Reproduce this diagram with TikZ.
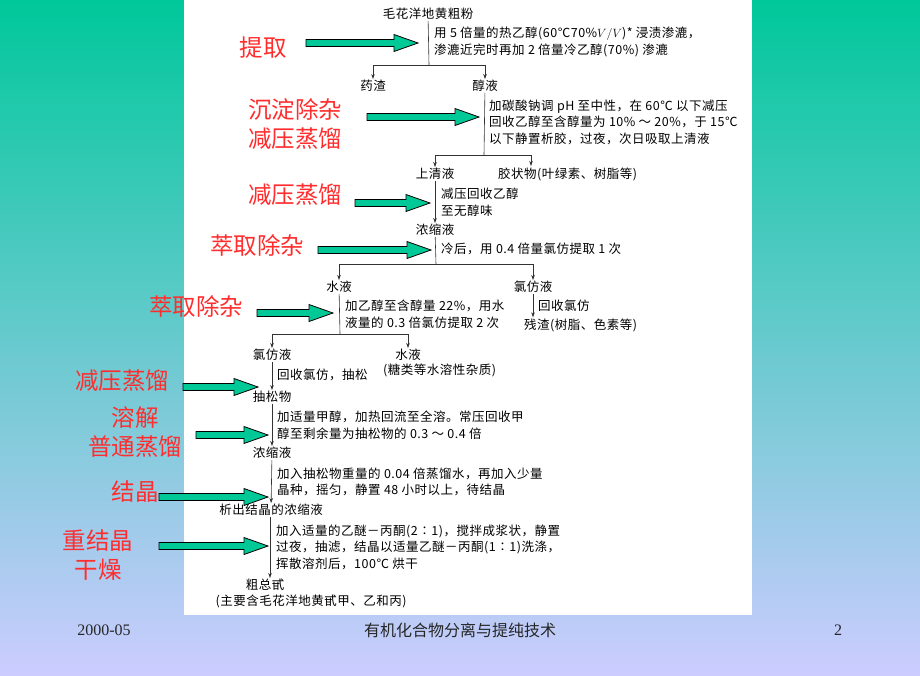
\documentclass[tikz,border=0pt]{standalone}
\usepackage{fontspec}
\setmainfont{Liberation Serif}
\newfontfamily\cjk{Noto Sans CJK SC}
\newfontfamily\cjkwide[LetterSpace=4]{Noto Sans CJK SC}
\usetikzlibrary{arrows.meta,calc}

\definecolor{slidetop}{RGB}{0,200,155}
\definecolor{slidemid}{RGB}{150,205,212}
\definecolor{slidebot}{RGB}{204,204,255}
\definecolor{labelred}{RGB}{255,45,45}
\definecolor{arrowgreen}{RGB}{0,200,150}

% block arrow from #1 to #2 (same height)
\newcommand{\GreenArrow}[2]{%
  \filldraw[greenarrow] let \p1=(#1), \p2=(#2) in
    (\x1,\y1+3.5pt) -- (\x2-24pt,\y1+3.5pt) -- (\x2-24pt,\y1+8.5pt) -- (\x2,\y1)
    -- (\x2-24pt,\y1-8.5pt) -- (\x2-24pt,\y1-3.5pt) -- (\x1,\y1-3.5pt) -- cycle;}

\begin{document}
\begin{tikzpicture}[x=1pt,y=-1pt,
    stuff/.style={font=\cjkwide\fontsize{12.5}{16.5}\selectfont, inner sep=1pt},
    stepnote/.style={stuff, anchor=west, align=left, inner sep=0pt},
    redlabel/.style={font=\cjk\fontsize{23.5}{29}\selectfont, text=labelred, align=center, inner sep=0pt},
    flowline/.style={draw=black!80, line width=0.6pt},
    flowarrow/.style={flowline, -{Stealth[length=5pt,width=3.5pt]}},
    greenarrow/.style={fill=arrowgreen, draw=black, line width=0.8pt},
    footer/.style={font=\fontsize{16}{18}\selectfont, text=black!85}]

  \useasboundingbox (0,0) rectangle (920,675);
  \shade[top color=slidetop, middle color=slidemid, bottom color=slidebot] (0,0) rectangle (920,675);
  \fill[white] (184,0) rectangle (752,615);

  % substances
  \node[stuff] (crude) at (428,14) {毛花洋地黄粗粉};
  \node[stuff] (dregs) at (373,86) {药渣};
  \node[stuff] (ethsol) at (485,86) {醇液};
  \node[stuff] (clear) at (435,174) {上清液};
  \node[stuff, anchor=west] (gum) at (497,174) {胶状物(叶绿素、树脂等)};
  \node[stuff] (conc) at (435,230) {浓缩液};
  \node[stuff] (aqua) at (339,287) {水液};
  \node[stuff] (chlA) at (533,287) {氯仿液};
  \node[stuff, anchor=west] (resid) at (523,325) {残渣(树脂、色素等)};
  \node[stuff] (chlB) at (272,355) {氯仿液};
  \node[stuff] (aquaB) at (408,355) {水液};
  \node[stuff, anchor=west] (sugar) at (382,370) {(糖类等水溶性杂质)};
  \node[stuff] (loose) at (272,397) {抽松物};
  \node[stuff] (concB) at (272,453) {浓缩液};
  \node[stuff] (cryst) at (271,510) {析出结晶的浓缩液};
  \node[stuff] (glyc) at (265,585) {粗总甙};
  \node[stuff] (glycnote) at (311,601) {(主要含毛花洋地黄甙甲、乙和丙)};

  % operations
  \node[stepnote] (op1) at (434,42) {用 5 倍量的热乙醇(60℃70\%$V/V$)* 浸渍渗漉，\\渗漉近完时再加 2 倍量冷乙醇(70\%) 渗漉};
  \node[stepnote] (op2) at (489,122) {加碳酸钠调 pH 至中性，在 60℃ 以下减压\\回收乙醇至含醇量为 10\% ～ 20\%，于 15℃\\以下静置析胶，过夜，次日吸取上清液};
  \node[stepnote] (op3) at (441,202) {减压回收乙醇\\至无醇味};
  \node[stepnote] (op4) at (441,249) {冷后，用 0.4 倍量氯仿提取 1 次};
  \node[stepnote] (op5) at (345,314) {加乙醇至含醇量 22\%，用水\\液量的 0.3 倍氯仿提取 2 次};
  \node[stepnote] (op5b) at (538,306) {回收氯仿};
  \node[stepnote] (op6) at (277,375) {回收氯仿，抽松};
  \node[stepnote] (op7) at (277,425) {加适量甲醇，加热回流至全溶。常压回收甲\\醇至剩余量为抽松物的 0.3 ～ 0.4 倍};
  \node[stepnote] (op8) at (277,482) {加入抽松物重量的 0.04 倍蒸馏水，再加入少量\\晶种，摇匀，静置 48 小时以上，待结晶};
  \node[stepnote] (op9) at (276,547) {加入适量的乙醚－丙酮(2∶1)，搅拌成浆状，静置\\过夜，抽滤，结晶以适量乙醚－丙酮(1∶1)洗涤，\\挥散溶剂后，100℃ 烘干};

  % branch points
  \coordinate (b1) at (429,65);
  \coordinate (b2) at (484,155);
  \coordinate (gumin) at (531,166);
  \coordinate (b3) at (436,264);
  \coordinate (b4) at (340,334);

  \draw[flowline] (crude) -- (b1);
  \draw[flowarrow] (b1) -| (dregs);
  \draw[flowarrow] (b1) -| (ethsol);
  \draw[flowline] (ethsol) -- (b2);
  \draw[flowarrow] (b2) -| (clear);
  \draw[flowarrow] (b2) -| (gumin);
  \draw[flowarrow] (clear) -- (conc);
  \draw[flowline] (conc) -- (b3);
  \draw[flowarrow] (b3) -| (aqua);
  \draw[flowarrow] (b3) -| (chlA);
  \draw[flowarrow] (chlA) -- (chlA |- resid.north);
  \draw[flowline] (aqua) -- (b4);
  \draw[flowarrow] (b4) -| (chlB);
  \draw[flowarrow] (b4) -| (aquaB);
  \draw[flowarrow] (chlB) -- (loose);
  \draw[flowarrow] (loose) -- (concB);
  \draw[flowarrow] (concB) -- (cryst);
  \draw[flowarrow] (cryst.south -| 270,0) -- (glyc.north -| 270,0);

  % red labels
  \node[redlabel] (lbl1) at (263,48) {提取};
  \node[redlabel] (lbl2) at (295,124) {沉淀除杂\\减压蒸馏};
  \node[redlabel] (lbl3) at (295,195) {减压蒸馏};
  \node[redlabel] (lbl4) at (257,245) {萃取除杂};
  \node[redlabel] (lbl5) at (196,306) {萃取除杂};
  \node[redlabel] (lbl6) at (122,381) {减压蒸馏};
  \node[redlabel] (lbl7) at (135,432) {溶解\\普通蒸馏};
  \node[redlabel] (lbl8) at (135,492) {结晶};
  \node[redlabel] (lbl9) at (98,555) {重结晶\\干燥};

  % green pointers
  \foreach \sx/\tx/\yy [count=\i] in {306/418/43, 367/479/117, 355/430/203, 318/431/250,
      257/333/313, 183/258/387, 196/268/435, 159/268/497, 159/268/546}{
    \coordinate (gs\i) at (\sx,\yy);
    \coordinate (gt\i) at (\tx,\yy);
    \GreenArrow{gs\i}{gt\i}
  }

  % footer
  \node[footer] (date) at (104,630) {2000-05};
  \node[footer, font=\cjk\fontsize{16}{18}\selectfont] (course) at (460,630) {有机化合物分离与提纯技术};
  \node[footer] (page) at (838,630) {2};
\end{tikzpicture}
\end{document}
